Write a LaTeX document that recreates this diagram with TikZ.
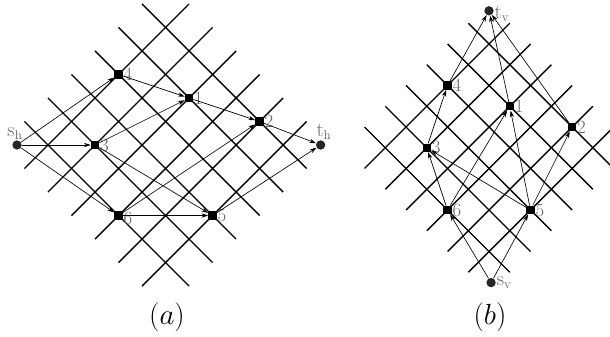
\documentclass[tikz,border=0pt]{standalone}
\usepackage{tikz}
\usetikzlibrary{arrows.meta}

\begin{document}
\begin{tikzpicture}[
x=0.03cm, y=-0.03cm,
gridline/.style={line width=1.2pt},
vtx/.style={fill=black, rectangle, minimum size=0.25cm, inner sep=0pt},
term/.style={fill=black!85, circle, minimum size=0.28cm, inner sep=0pt},
lab/.style={text=black!60, font=\fontsize{16}{18}\selectfont, inner sep=0.5pt},
edge/.style={-{Stealth[length=2mm, width=1.3mm]}, line width=0.55pt},
captxt/.style={font=\fontsize{23}{26}\selectfont}
]
\clip (0,0) rectangle (610,337);

% (a): grid with horizontal flow
\begin{scope}[shift={(48,145)}, x={(0.705cm,-0.705cm)}, y={(0.705cm,0.705cm)}]
\foreach \k in {0,...,5} {
  \draw[gridline] (\k,-1) -- (\k,6);
  \draw[gridline] (-1,\k) -- (6,\k);
}
\node[vtx, label={[lab]right:4}] (a4) at (0,3) {};
\node[vtx, label={[lab]right:3}] (a3) at (1,1) {};
\node[vtx, label={[lab]right:1}] (a1) at (2,4) {};
\node[vtx, label={[lab, yshift=-0.1cm]right:6}] (a6) at (3,0) {};
\node[vtx, label={[lab]right:2}] (a2) at (4,5) {};
\node[vtx, label={[lab]right:5}] (a5) at (5,2) {};
\node[term, label={[lab, xshift=-0.06cm]above:$\mathrm{s}_{\mathrm{h}}$}] (sh) at (-0.66,-0.66) {};
\node[term, label={[lab, xshift=0.1cm]above:$\mathrm{t}_{\mathrm{h}}$}] (th) at (5.8,5.8) {};
\draw[edge] (sh) -- (a4);
\draw[edge] (sh) -- (a3);
\draw[edge] (sh) -- (a6);
\draw[edge] (a4) -- (a1);
\draw[edge] (a3) -- (a1);
\draw[edge] (a3) -- (a5);
\draw[edge] (a6) -- (a2);
\draw[edge] (a6) -- (a5);
\draw[edge] (a1) -- (a2);
\draw[edge] (a2) -- (th);
\draw[edge] (a5) -- (th);
\end{scope}

% (b): same grid, vertical flow
\begin{scope}[shift={(385.25,147.75)}, x={(0.6225cm,-0.6225cm)}, y={(0.6225cm,0.6225cm)}]
\foreach \k in {0,...,5} {
  \draw[gridline] (\k,-1) -- (\k,6);
  \draw[gridline] (-1,\k) -- (6,\k);
}
\node[vtx, label={[lab]right:4}] (b4) at (0,3) {};
\node[vtx, label={[lab]right:3}] (b3) at (1,1) {};
\node[vtx, label={[lab]right:1}] (b1) at (2,4) {};
\node[vtx, label={[lab]right:6}] (b6) at (3,0) {};
\node[vtx, label={[lab]right:2}] (b2) at (4,5) {};
\node[vtx, label={[lab]right:5}] (b5) at (5,2) {};
\node[term, label={[lab]right:$\mathrm{s}_{\mathrm{v}}$}] (sv) at (5.8,-0.7) {};
\node[term, label={[lab, yshift=-0.1cm]right:$\mathrm{t}_{\mathrm{v}}$}] (tv) at (-0.8,5.8) {};
\draw[edge] (sv) -- (b6);
\draw[edge] (sv) -- (b5);
\draw[edge] (b6) -- (b3);
\draw[edge] (b6) -- (b1);
\draw[edge] (b5) -- (b3);
\draw[edge] (b5) -- (b1);
\draw[edge] (b5) -- (b2);
\draw[edge] (b3) -- (b4);
\draw[edge] (b4) -- (tv);
\draw[edge] (b1) -- (tv);
\draw[edge] (b2) -- (tv);
\end{scope}

\node[captxt] (capa) at (167,317) {$(a)$};
\node[captxt] (capb) at (490,317) {$(b)$};
\end{tikzpicture}
\end{document}
